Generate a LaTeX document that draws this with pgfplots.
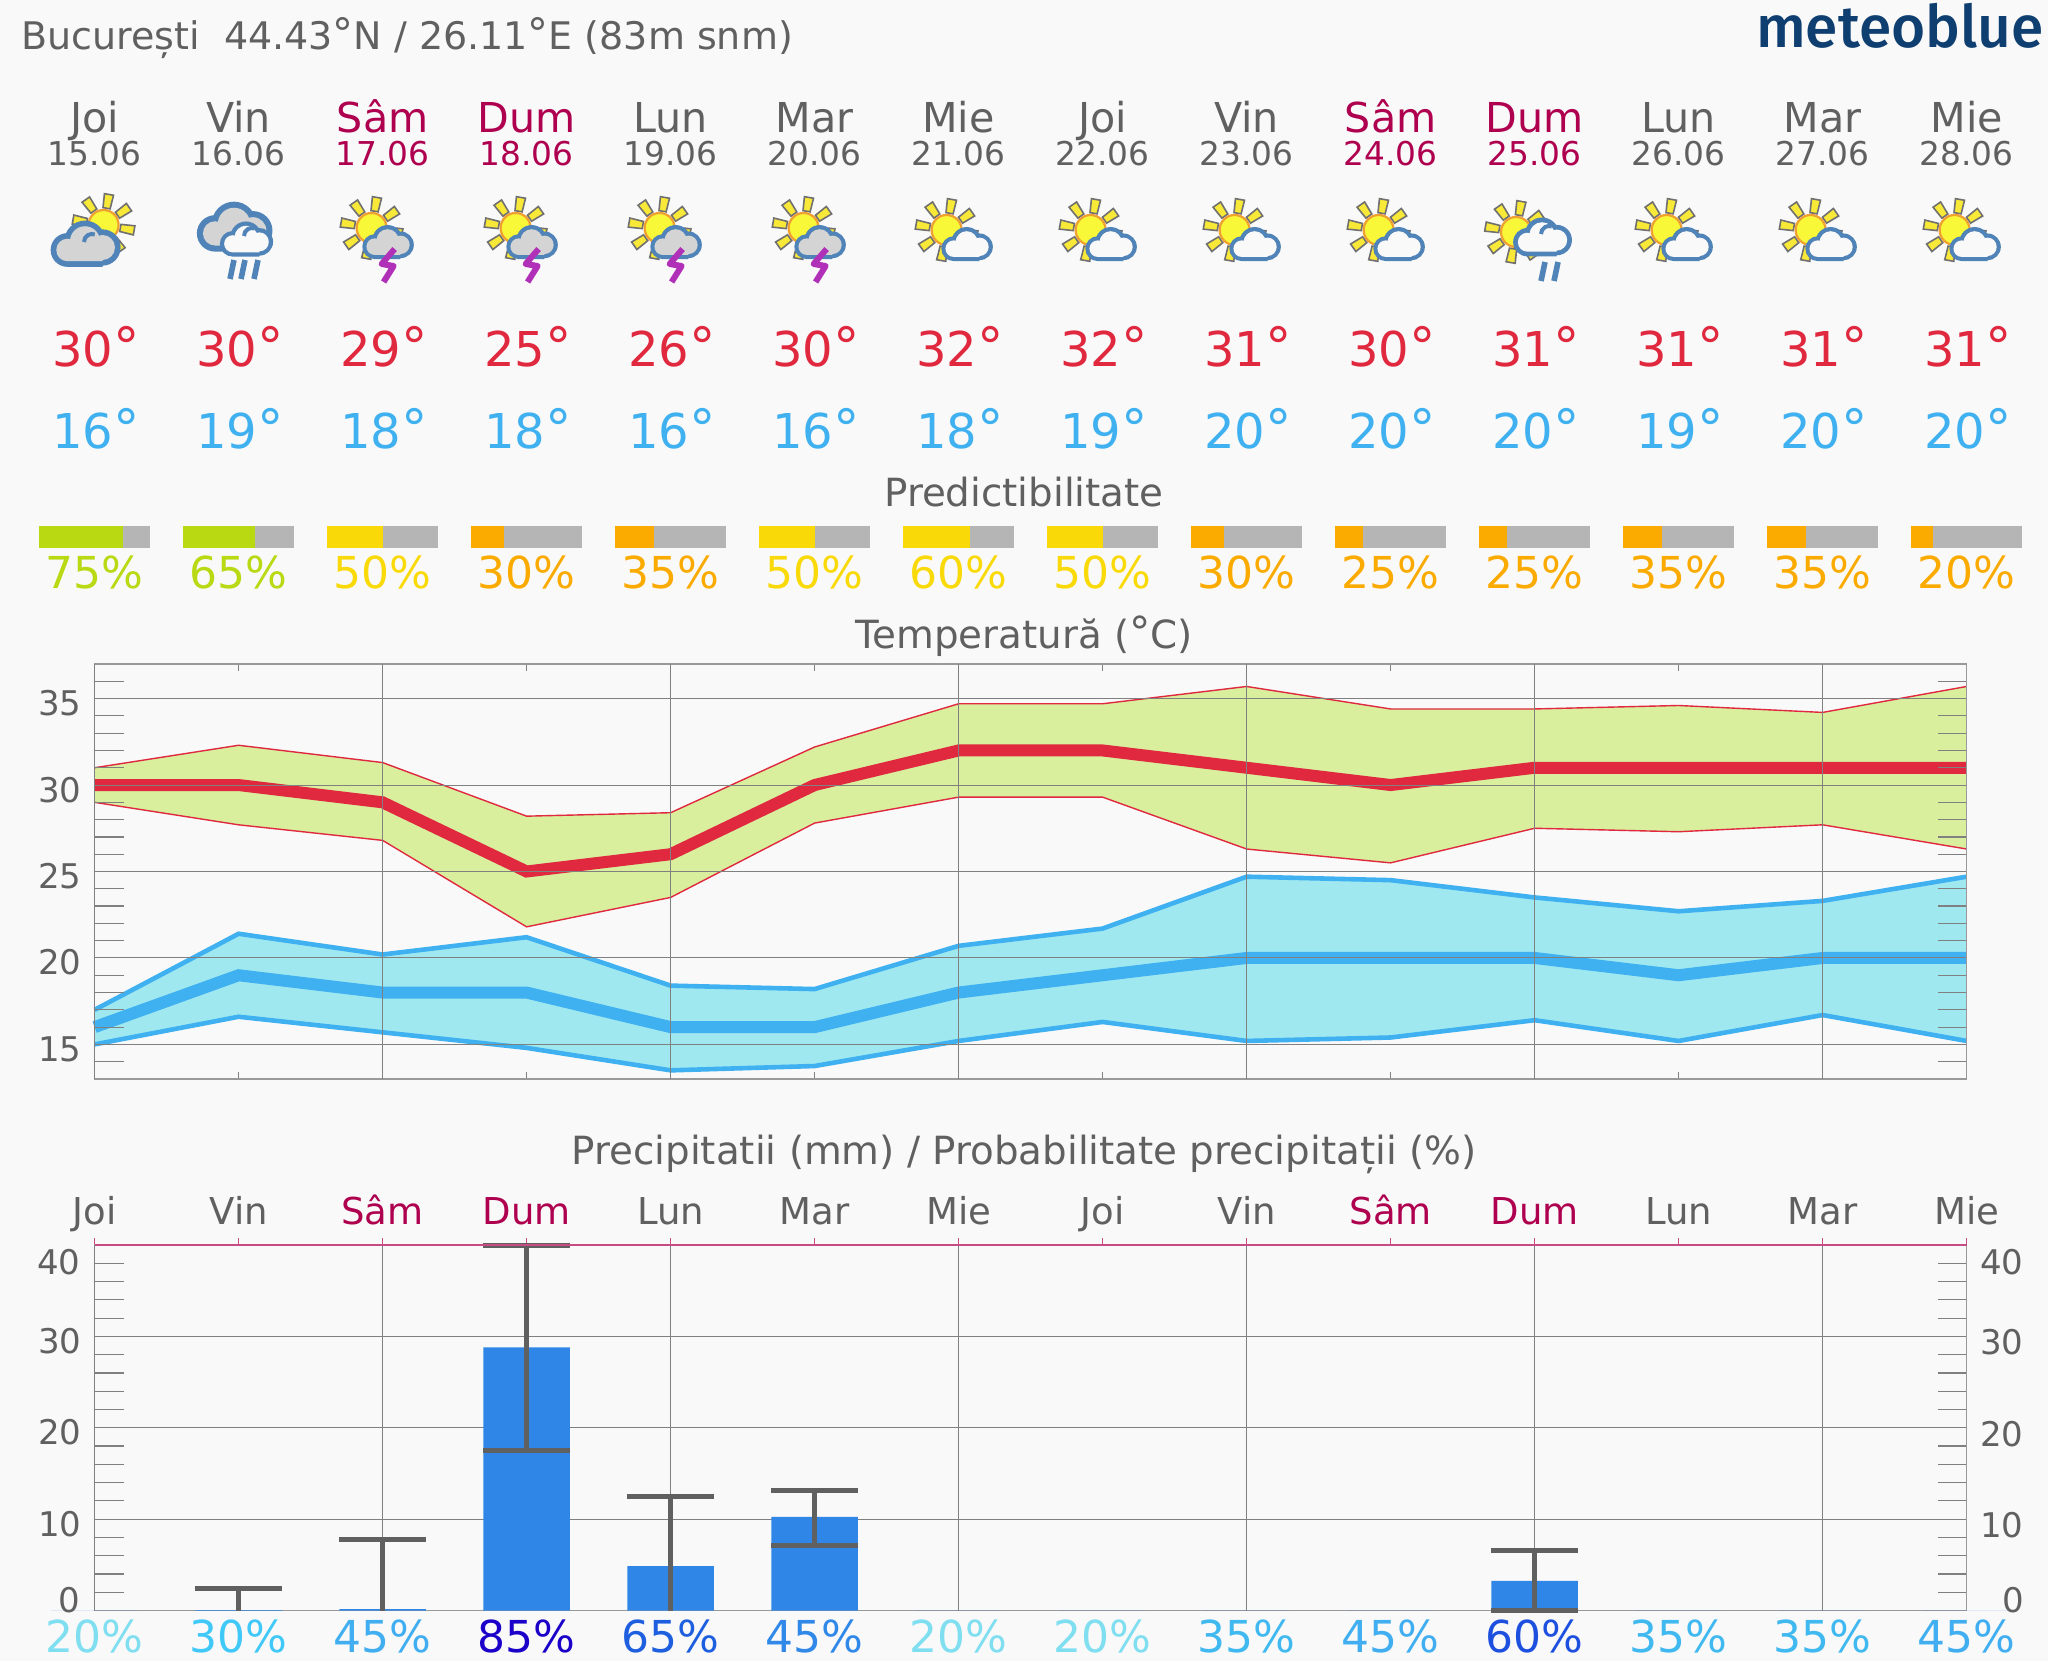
\documentclass[border=0pt]{standalone}
\usepackage{fontspec}
\usepackage{graphicx}
\usepackage{pgfplots}
\usepackage{pgfplotstable}
\pgfplotsset{compat=1.18}
\setmainfont{DejaVu Sans}
\newfontfamily\logofont{Fira Sans Medium}

\definecolor{bg}{HTML}{F9F9F9}
\definecolor{txt}{HTML}{606060}
\definecolor{dum}{HTML}{AE004F}
\definecolor{tred}{HTML}{E0283F}
\definecolor{tblue}{HTML}{3FB0F0}
\definecolor{bandg}{HTML}{D9EF9E}
\definecolor{bandb}{HTML}{9FE8F0}
\definecolor{pgreen}{HTML}{B9D913}
\definecolor{pyellow}{HTML}{F9D908}
\definecolor{porange}{HTML}{FBAB00}
\definecolor{pgrey}{HTML}{B5B5B5}
\definecolor{gridc}{HTML}{808080}
\definecolor{barc}{HTML}{2F86E6}
\definecolor{errc}{HTML}{606060}
\definecolor{logo}{HTML}{0F3F70}
\definecolor{cloudb}{HTML}{5084B8}
\definecolor{cloudg}{HTML}{D4D4D4}
\definecolor{sunc}{HTML}{F8F838}
\definecolor{suno}{HTML}{F0A030}
\definecolor{ray}{HTML}{F8E838}
\definecolor{rayo}{HTML}{707070}
\definecolor{bolt}{HTML}{B030B8}
\definecolor{pa}{HTML}{7FDFF0}
\definecolor{pb}{HTML}{40C8F8}
\definecolor{pc}{HTML}{40AEF0}
\definecolor{pd}{HTML}{1A00C8}
\definecolor{pe}{HTML}{1E5FE0}
\definecolor{pf}{HTML}{3088E8}
\definecolor{pg}{HTML}{1E50E0}
\definecolor{ph}{HTML}{40B8F0}

\newcommand\fs[1]{\fontsize{#1}{#1}\selectfont}
\newcommand\dg{\raisebox{.04em}{\scalebox{1.1}{°}}}

% temperature lines
\pgfplotstableread{
x  maxhi maxlo maxm minhi minlo minm
0  31.0  29.0  30   17.0  15.0  16
1  32.3  27.7  30   21.4  16.6  19
2  31.3  26.8  29   20.2  15.7  18
3  28.2  21.8  25   21.2  14.8  18
4  28.4  23.5  26   18.4  13.5  16
5  32.2  27.8  30   18.2  13.75 16
6  34.7  29.3  32   20.7  15.2  18
7  34.7  29.3  32   21.7  16.3  19
8  35.7  26.3  31   24.7  15.2  20
9  34.4  25.5  30   24.5  15.4  20
10 34.4  27.5  31   23.5  16.4  20
11 34.6  27.3  31   22.7  15.2  19
12 34.2  27.7  31   23.3  16.7  20
13 35.7  26.3  31   24.7  15.2  20
}\temps

\pgfplotsset{
  base/.style={
    scale only axis, anchor=south west, xmin=0, xmax=13,
    width=936pt,
    axis line style={draw=gridc!80, line width=.7pt},
    /pgf/number format/assume math mode=true,
    xtick={0,...,13}, xticklabels={},
    extra x ticks={0,2,...,12}, extra x tick labels={},
    extra x tick style={grid=major, major tick length=0pt},
    major grid style={draw=gridc, line width=.5pt},
    ymajorgrids,
    major tick length=3.5pt,
    minor tick length=14.5pt,
    tick style={draw=gridc, line width=.5pt},
    minor y tick style={draw=gridc, line width=.6pt},
    ytick style={draw=none},
    yticklabel style={font=\fs{17}, text=txt, yshift=-2.3pt, xshift=-3pt},
    clip=false,
  },
  pbar/.style={
    hide axis, scale only axis, anchor=south west,
    width=55.8pt, height=11pt, xmin=0, xmax=100, ymin=-.5, ymax=.5,
    xbar, bar width=11pt, bar shift=0pt,
  },
}

% icons, in picture pixels
\newcommand\sunicon[2]{%
  \foreach \a in {35,80,...,350}{%
    \begin{scope}[shift={(#1,#2)},rotate=\a]
      \draw[fill=ray,draw=rayo,line width=.8pt] (17,-3.6) -- (31,-4.6) -- (31,4.6) -- (17,3.6) -- cycle;
    \end{scope}}
  \draw[fill=sunc,draw=suno,line width=1.1pt] (#1,#2) circle[radius=15];
}
\newcommand\cloudpass[2]{%
  \fill[#2] (-14,4) circle[radius=9+#1] (0,-3) circle[radius=12+#1] (14,2) circle[radius=10+#1]
    (-14,13+#1) rectangle (14,1);
}
\newcommand\cloudicon[4]{%
  \begin{scope}[shift={(#1,#2)},scale=#3]
    \cloudpass{4.5}{cloudb}
    \cloudpass{0}{#4}
  \end{scope}
}
\newcommand\cloudhook[2]{%
  \draw[cloudb,line width=2pt] (#1-4,#2-6) arc[start angle=180,end angle=290,radius=8];
}
\newcommand\bolticon[2]{%
  \draw[bolt,line width=3pt,line join=round] (#1+7,#2-16) -- (#1-6,#2-1) -- (#1+6,#2+1) -- (#1-4,#2+17);
}
\newcommand\rainicon[2]{%
  \draw[cloudb,line width=2.8pt] (#1+3,#2) -- (#1-1,#2+19);
}

\begin{document}
\begin{tikzpicture}
\useasboundingbox (0,0) rectangle (1024pt,830.5pt);
\fill[bg] (0,0) rectangle (1024pt,830.5pt);

% --- predictability bars
\foreach \i/\p/\c in {0/75/pgreen,1/65/pgreen,2/50/pyellow,3/30/porange,4/35/porange,5/50/pyellow,6/60/pyellow,7/50/pyellow,8/30/porange,9/25/porange,10/25/porange,11/35/porange,12/35/porange,13/20/porange}{
  \begin{axis}[pbar, at={({(38.8+144*\i)*0.5pt},{(1661-548)*0.5pt})}]
    \addplot[fill=pgrey,draw=none] coordinates {(100,0)};
    \addplot[fill=\c,draw=none] coordinates {(\p,0)};
  \end{axis}
}

% --- temperature
\begin{axis}[base, at={(47.3pt,291pt)}, height=207.5pt,
    ymin=13, ymax=37, axis on top,
    ytick={15,20,...,35},
    minor ytick={14,16,17,18,19,21,22,23,24,26,27,28,29,31,32,33,34,36},
  ]
  \addplot[draw=none,fill=bandg] coordinates {
    (0,31.0) (1,32.3) (2,31.3) (3,28.2) (4,28.4) (5,32.2) (6,34.7) (7,34.7) (8,35.7) (9,34.4) (10,34.4) (11,34.6) (12,34.2) (13,35.7)
    (13,26.3) (12,27.7) (11,27.3) (10,27.5) (9,25.5) (8,26.3) (7,29.3) (6,29.3) (5,27.8) (4,23.5) (3,21.8) (2,26.8) (1,27.7) (0,29.0)} -- cycle;
  \addplot[draw=none,fill=bandb] coordinates {
    (0,17.0) (1,21.4) (2,20.2) (3,21.2) (4,18.4) (5,18.2) (6,20.7) (7,21.7) (8,24.7) (9,24.5) (10,23.5) (11,22.7) (12,23.3) (13,24.7)
    (13,15.2) (12,16.7) (11,15.2) (10,16.4) (9,15.4) (8,15.2) (7,16.3) (6,15.2) (5,13.75) (4,13.5) (3,14.8) (2,15.7) (1,16.6) (0,15.0)} -- cycle;
  \addplot[tred,line width=.7pt] table[x=x,y=maxhi]{\temps};
  \addplot[tred,line width=.7pt] table[x=x,y=maxlo]{\temps};
  \addplot[tblue,line width=2.3pt] table[x=x,y=minhi]{\temps};
  \addplot[tblue,line width=2.3pt] table[x=x,y=minlo]{\temps};
  \addplot[tred,line width=6pt] table[x=x,y=maxm]{\temps};
  \addplot[tblue,line width=6pt] table[x=x,y=minm]{\temps};
\end{axis}

% --- precipitation
\begin{axis}[base, at={(47.3pt,25.25pt)}, height=182.75pt,
    ymin=0, ymax=40,
    ytick={0,10,...,40}, yticklabels={{},10,20,30,{}},
    minor ytick={2,4,6,8,12,14,16,18,22,24,26,28,32,34,36,38},
    xtick pos=top, xticklabel pos=top,
    xtick style={draw=dum!70!white, line width=.5pt},
    xticklabels={Joi,Vin,\textcolor{dum}{Sâm},\textcolor{dum}{Dum},Lun,Mar,Mie,Joi,Vin,\textcolor{dum}{Sâm},\textcolor{dum}{Dum},Lun,Mar,Mie},
    xticklabel style={font=\fs{18.5}, text=txt, anchor=base, yshift=6.8pt},
    ybar, bar width=43.35pt, bar shift=0pt,
  ]
  % days without rain, then the amounts
  \addplot[fill=barc,draw=none] coordinates {(0,0) (6,0) (7,0) (8,0) (9,0) (11,0) (12,0) (13,0)};
  \addplot[fill=barc,draw=none] coordinates {(1,0.05) (2,0.15) (4,4.85)};
  % ranges whose lower end has no cap in the picture
  \addplot[fill=none,draw=none,
      error bars/.cd, y dir=plus, y explicit,
      error bar style={draw=errc,line width=2.5pt},
      error mark options={rotate=90,mark size=21.7pt,draw=errc,line width=2.5pt},
    ] coordinates {
      (1,0) +=(0,2.4)
      (2,0) +=(0,7.8)
      (4,0) +=(0,12.5)
    };
  \addplot[fill=barc,draw=none,
      error bars/.cd, y dir=both, y explicit,
      error bar style={draw=errc,line width=2.5pt},
      error mark options={rotate=90,mark size=21.7pt,draw=errc,line width=2.5pt},
    ] coordinates {
      (3,28.8)  +=(0,11.1)  -=(0,11.25)
      (5,10.25) +=(0,2.85)  -=(0,3.1)
      (10,3.25) +=(0,3.28)  -=(0,3.25)
    };
  \draw[dum!70!white,line width=.7pt] (rel axis cs:0,1) -- (rel axis cs:1,1);
\end{axis}

% --- texts and icons, coordinates in picture pixels
\begin{scope}[x=0.5pt,y=-0.5pt,yshift=830.5pt]
  \node[anchor=base west,inner sep=0,text=txt,font=\fs{19}] at (21,50) {București\ \ 44.43\dg N / 26.11\dg E (83m snm)};
  \node[anchor=base east,inner sep=0,text=logo,font=\logofont\fs{29.3}] at (2044,48) {meteoblue};

  \foreach \i/\d/\c/\t in {0/Joi/txt/15.06,1/Vin/txt/16.06,2/Sâm/dum/17.06,3/Dum/dum/18.06,4/Lun/txt/19.06,5/Mar/txt/20.06,6/Mie/txt/21.06,7/Joi/txt/22.06,8/Vin/txt/23.06,9/Sâm/dum/24.06,10/Dum/dum/25.06,11/Lun/txt/26.06,12/Mar/txt/27.06,13/Mie/txt/28.06}{
    \node[anchor=base,inner sep=0,text=\c,font=\fs{20.6}] at ({94.6+144*\i},132.7) {\d};
    \node[anchor=base,inner sep=0,text=\c,font=\fs{16.4}] at ({94.6+144*\i},165.7) {\t};
  }
  \foreach \i/\a/\b in {0/30/16,1/30/19,2/29/18,3/25/18,4/26/16,5/30/16,6/32/18,7/32/19,8/31/20,9/30/20,10/31/20,11/31/19,12/31/20,13/31/20}{
    \node[anchor=base,inner sep=0,text=tred,font=\fs{24}] at ({96+144*\i},367) {\a\dg};
    \node[anchor=base,inner sep=0,text=tblue,font=\fs{24}] at ({96+144*\i},449) {\b\dg};
  }

  \node[anchor=base,inner sep=0,text=txt,font=\fs{19.4}] at (1024,507) {Predictibilitate};
  \foreach \i/\p/\c in {0/75/pgreen,1/65/pgreen,2/50/pyellow,3/30/porange,4/35/porange,5/50/pyellow,6/60/pyellow,7/50/pyellow,8/30/porange,9/25/porange,10/25/porange,11/35/porange,12/35/porange,13/20/porange}{
    \node[anchor=base,inner sep=0,text=\c,font=\fs{22}] at ({94.6+144*\i},589) {\p\%};
  }
  \node[anchor=base,inner sep=0,text=txt,font=\fs{19.4}] at (1024,649) {Temperatură (\dg C)};
  \node[anchor=base,inner sep=0,text=txt,font=\fs{19.4}] at (1024,1164) {Precipitatii (mm) / Probabilitate precipitații (\%)};

  % precipitation axis labels clamped inside the frame
  \foreach \v/\yy in {40/1274.7,30/1354.7,20/1446,10/1537,0/1612.7}{
    \node[anchor=base east,inner sep=0,text=txt,font=\fs{17}] at (2024,\yy) {\v};
  }
  \node[anchor=base east,inner sep=0,text=txt,font=\fs{17}] at (81,1274.7) {40};
  \node[anchor=base east,inner sep=0,text=txt,font=\fs{17}] at (81,1612.7) {0};

  \foreach \i/\p/\c in {0/20/pa,1/30/pb,2/45/pc,3/85/pd,4/65/pe,5/45/pf,6/20/pa,7/20/pa,8/35/ph,9/45/pc,10/60/pg,11/35/ph,12/35/ph,13/45/pc}{
    \node[anchor=base,inner sep=0,text=\c,font=\fs{22}] at ({94.6+144*\i},1652) {\p\%};
  }

  % day 0: cloud over sun
  \sunicon{103.6}{225}
  \cloudicon{85}{245}{1.25}{cloudg}
  \cloudhook{88}{248}
  % day 1: rain clouds
  \cloudicon{234}{228}{1.35}{cloudg}
  \cloudicon{246}{240}{.95}{bg}
  \cloudhook{248}{242}
  \rainicon{231}{260}
  \rainicon{242}{260}
  \rainicon{255}{260}
  % days 2-5: sun, small cloud, lightning
  \foreach \i in {2,3,4,5}{
    \pgfmathsetmacro\c{94.6+144*\i}
    \sunicon{\c-11}{228}
    \cloudicon{\c+5}{243}{.92}{cloudg}
    \bolticon{\c+5}{265}
  }
  % days 6-9, 11-13: sun and small white cloud
  \foreach \i in {6,7,8,9,11,12,13}{
    \pgfmathsetmacro\c{94.6+144*\i}
    \sunicon{\c-12}{230}
    \cloudicon{\c+8}{245}{.92}{bg}
  }
  % day 10: sun, cloud, rain
  \sunicon{1516}{232}
  \cloudicon{1542}{238}{1.05}{bg}
  \cloudhook{1545}{240}
  \rainicon{1542}{262}
  \rainicon{1555}{262}
\end{scope}
\end{tikzpicture}
\end{document}
